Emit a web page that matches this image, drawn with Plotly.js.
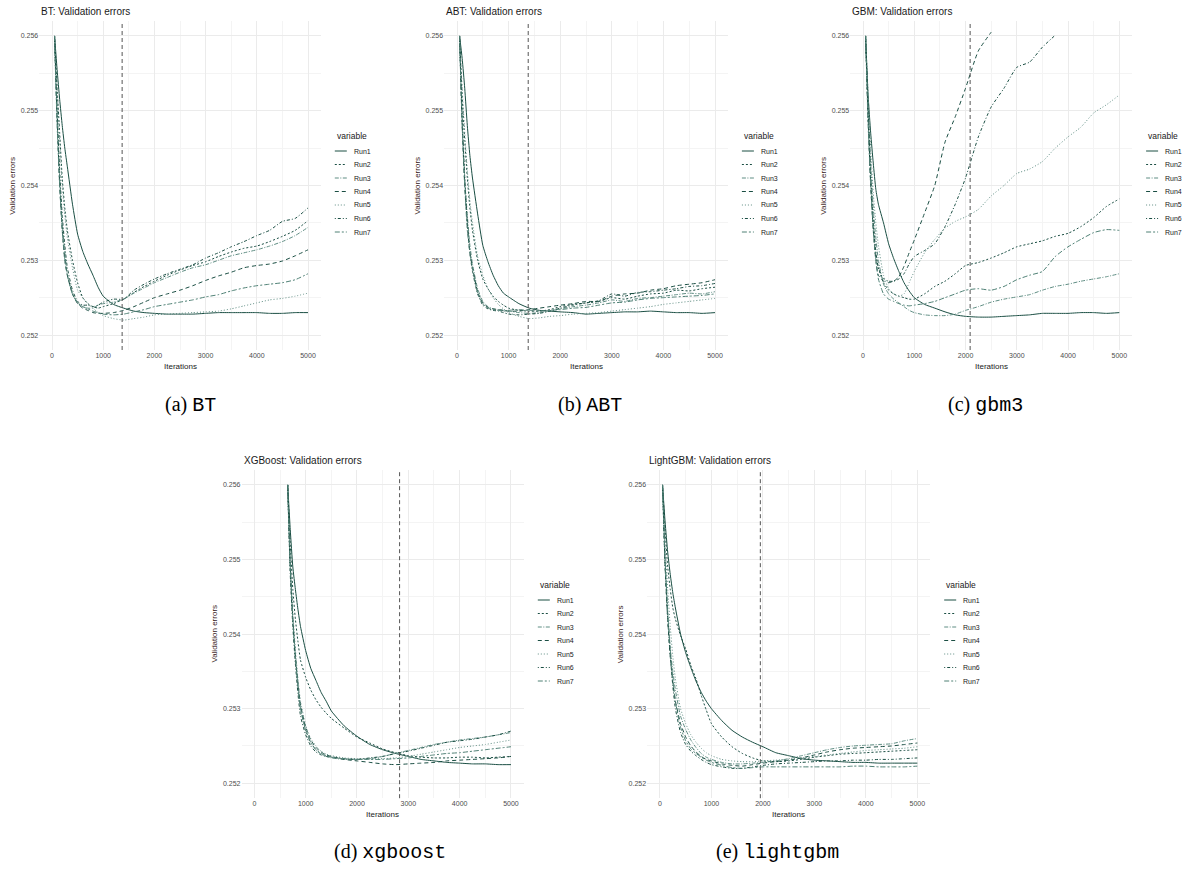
<!DOCTYPE html>
<html><head><meta charset="utf-8">
<script src="https://cdn.plot.ly/plotly-3.0.1.min.js"></script>
<style>html,body{margin:0;padding:0;background:#fff;} #chart{width:1183px;height:874px;}</style>
</head><body><div id="chart"></div>
<script>
// ---------------- DATA ----------------
const runNames = ['Run1','Run2','Run3','Run4','Run5','Run6','Run7'];
const panelTitles = ['BT: Validation errors','ABT: Validation errors','GBM: Validation errors','XGBoost: Validation errors','LightGBM: Validation errors'];
const captionLetters = ['(a)','(b)','(c)','(d)','(e)'];
const captionNames = ['BT','ABT','gbm3','xgboost','lightgbm'];
const bestIter = [1370, 1380, 2090, 2830, 1950];
const xTickVals = [0,1000,2000,3000,4000,5000];
const yTickVals = [0.252,0.253,0.254,0.255,0.256];

const iters = [50,100,150,200,250,300,400,500,600,700,800,900,1000,1200,1400,1600,1800,2000,2250,2500,2750,3000,3250,3500,3750,4000,4250,4500,4750,5000];
const itersXGB = [650,700,750,800,850,900,1000,1100,1200,1300,1400,1500,1750,2000,2250,2500,2750,3000,3250,3500,3750,4000,4250,4500,4750,5000];

const btRuns = [
 [0.2560,0.25555,0.25515,0.2548,0.2545,0.25425,0.25375,0.25335,0.25312,0.25295,0.2528,0.25264,0.25252,0.25241,0.25236,0.25232,0.2523,0.25229,0.25228,0.25228,0.25228,0.25229,0.2523,0.2523,0.2523,0.2523,0.25229,0.25229,0.2523,0.2523],
 [0.2560,0.2553,0.2547,0.2541,0.2537,0.2534,0.2530,0.2527,0.2525,0.25242,0.25238,0.25236,0.25238,0.25242,0.25248,0.25257,0.25265,0.25272,0.2528,0.25287,0.25293,0.25298,0.25305,0.25311,0.25316,0.25319,0.25325,0.25332,0.2534,0.25353],
 [0.2559,0.2549,0.2541,0.2535,0.2531,0.2528,0.25255,0.25243,0.25238,0.25236,0.25236,0.2524,0.25242,0.25244,0.25248,0.25256,0.25263,0.2527,0.25277,0.25284,0.2529,0.25294,0.253,0.25306,0.2531,0.25314,0.25319,0.25325,0.25333,0.25344],
 [0.2560,0.2549,0.2540,0.2534,0.2530,0.2528,0.25255,0.25242,0.25236,0.25233,0.2523,0.25229,0.25229,0.2523,0.25233,0.25238,0.25244,0.2525,0.25255,0.2526,0.25266,0.25273,0.25279,0.25284,0.2529,0.25293,0.25295,0.25299,0.25306,0.25314],
 [0.2560,0.2553,0.2546,0.2540,0.2536,0.2533,0.2529,0.2526,0.2525,0.25242,0.25236,0.2523,0.25226,0.25222,0.2522,0.25222,0.25224,0.25227,0.25228,0.25229,0.2523,0.25231,0.25232,0.25235,0.25239,0.25243,0.25247,0.25249,0.25252,0.25256],
 [0.2560,0.2550,0.2542,0.2536,0.2532,0.2529,0.2526,0.25245,0.2524,0.2524,0.25238,0.2524,0.25244,0.25248,0.25248,0.2526,0.25268,0.25275,0.25282,0.25288,0.25294,0.25303,0.2531,0.25318,0.25325,0.25333,0.2534,0.25352,0.25356,0.2537],
 [0.2560,0.2548,0.2540,0.2534,0.2530,0.2528,0.25255,0.25243,0.25238,0.25235,0.25232,0.2523,0.25228,0.25227,0.25228,0.25231,0.25234,0.25238,0.25241,0.25244,0.25247,0.25251,0.25254,0.25259,0.25263,0.25266,0.25268,0.2527,0.25274,0.25282]
];

const abtRuns = [
 [0.2560,0.2557,0.2553,0.2548,0.2544,0.2541,0.25362,0.2532,0.25298,0.2528,0.25266,0.25256,0.25251,0.25242,0.25236,0.25233,0.25232,0.25231,0.2523,0.25228,0.25229,0.2523,0.25231,0.25231,0.25232,0.25231,0.2523,0.2523,0.25229,0.2523],
 [0.2560,0.2552,0.2546,0.2541,0.2537,0.2534,0.2530,0.25275,0.25262,0.25252,0.25245,0.2524,0.25236,0.25233,0.25232,0.25232,0.25234,0.25238,0.25241,0.25243,0.25245,0.2525,0.25248,0.25252,0.25255,0.25256,0.2526,0.25259,0.25262,0.25264],
 [0.2559,0.2549,0.2541,0.2536,0.2532,0.25295,0.25262,0.25245,0.25238,0.25235,0.25234,0.25233,0.25232,0.2523,0.25229,0.2523,0.25232,0.25235,0.25238,0.2524,0.25243,0.25247,0.25245,0.25249,0.2525,0.25252,0.25254,0.25256,0.25255,0.25258],
 [0.2560,0.2548,0.2540,0.2535,0.2531,0.2529,0.25258,0.25243,0.25237,0.25235,0.25234,0.25233,0.25232,0.25232,0.25234,0.25236,0.25238,0.2524,0.25242,0.25245,0.25245,0.25252,0.25255,0.25256,0.2526,0.25262,0.25266,0.25268,0.2527,0.25274],
 [0.2560,0.2553,0.2547,0.2542,0.2538,0.2535,0.25305,0.2528,0.25262,0.2525,0.25241,0.25235,0.2523,0.25225,0.25222,0.25223,0.25225,0.25226,0.25228,0.25229,0.2523,0.25232,0.25234,0.25236,0.25238,0.25241,0.25243,0.25245,0.25247,0.25249],
 [0.2560,0.2549,0.2541,0.2535,0.2531,0.25285,0.25255,0.2524,0.25235,0.25233,0.25232,0.2523,0.25228,0.25227,0.25228,0.25229,0.25232,0.25236,0.2524,0.25243,0.25246,0.25255,0.25252,0.25257,0.25258,0.2526,0.25262,0.25265,0.25266,0.25269],
 [0.2560,0.2548,0.2540,0.2534,0.2531,0.2529,0.25256,0.25242,0.25236,0.25234,0.25233,0.25232,0.25233,0.25234,0.25233,0.25232,0.25233,0.25234,0.25236,0.25237,0.2524,0.25243,0.25244,0.25247,0.25249,0.2525,0.25251,0.25252,0.25253,0.25255]
];

const gbmRuns = [
 [0.2560,0.2552,0.2547,0.2543,0.25395,0.25375,0.2535,0.25322,0.25302,0.25285,0.2527,0.25259,0.2525,0.25241,0.25236,0.25231,0.25227,0.25225,0.25224,0.25224,0.25225,0.25226,0.25227,0.25229,0.25229,0.25229,0.2523,0.2523,0.25229,0.2523],
 [0.2560,0.2549,0.2541,0.2535,0.2531,0.2529,0.2527,0.2526,0.25255,0.25252,0.2525,0.25248,0.25248,0.25255,0.25265,0.25272,0.25282,0.25293,0.25297,0.25303,0.2531,0.25318,0.25322,0.25326,0.25332,0.25336,0.25345,0.25357,0.25372,0.25382],
 [0.2560,0.2551,0.2543,0.2537,0.2533,0.2530,0.25268,0.25255,0.25248,0.25243,0.25238,0.25233,0.2523,0.25227,0.25226,0.25226,0.25228,0.25233,0.25238,0.25244,0.25248,0.25251,0.25254,0.2526,0.25265,0.25268,0.25272,0.25275,0.25278,0.25282],
 [0.2560,0.2549,0.2540,0.2534,0.2530,0.2528,0.25272,0.2527,0.25272,0.25278,0.25292,0.2531,0.25327,0.25363,0.254,0.25458,0.25492,0.2553,0.2558,0.25605,null,null,null,null,null,null,null,null,null,null],
 [0.2560,0.2552,0.2545,0.2539,0.2535,0.2532,0.2528,0.25262,0.25255,0.25252,0.25255,0.2527,0.25285,0.2531,0.25328,0.25343,0.25352,0.25358,0.25368,0.25386,0.254,0.25416,0.25422,0.25432,0.2545,0.25465,0.25478,0.25497,0.25508,0.25521],
 [0.2560,0.2550,0.2541,0.2535,0.2531,0.2529,0.25275,0.25272,0.25272,0.25275,0.25282,0.25295,0.25305,0.25313,0.25322,0.25345,0.25375,0.2541,0.25465,0.25505,0.2553,0.25558,0.25565,0.25585,0.25601,null,null,null,null,null],
 [0.2560,0.2548,0.2540,0.2534,0.2530,0.25275,0.25255,0.25248,0.25245,0.25242,0.2524,0.25239,0.2524,0.25242,0.25245,0.2525,0.25255,0.2526,0.25262,0.2526,0.25265,0.25274,0.2528,0.25285,0.25305,0.25318,0.25328,0.25337,0.25341,0.2534]
];

const xgbRuns = [
 [0.2560,0.2554,0.2549,0.2546,0.25433,0.2541,0.25378,0.25354,0.25338,0.25322,0.2531,0.25297,0.25277,0.25263,0.25252,0.25245,0.2524,0.25236,0.25232,0.2523,0.25228,0.25227,0.25226,0.25226,0.25225,0.25225],
 [0.2560,0.2552,0.2546,0.2542,0.2539,0.25365,0.25342,0.25325,0.25312,0.25302,0.25294,0.25287,0.25274,0.25262,0.25254,0.25246,0.25241,0.25237,0.25235,0.25234,0.25234,0.25235,0.25235,0.25234,0.25235,0.25236],
 [0.2559,0.2549,0.2542,0.2537,0.2533,0.2530,0.25272,0.25255,0.25245,0.25239,0.25236,0.25234,0.25232,0.25232,0.25233,0.25236,0.2524,0.25244,0.25248,0.25252,0.25255,0.25258,0.2526,0.25262,0.25265,0.25268],
 [0.2560,0.2549,0.2542,0.2537,0.25335,0.25305,0.25275,0.25258,0.25248,0.25242,0.25238,0.25236,0.25232,0.2523,0.25228,0.25226,0.25225,0.25226,0.25227,0.25228,0.2523,0.25231,0.25232,0.25233,0.25234,0.25236],
 [0.2560,0.2550,0.2543,0.2538,0.2534,0.2531,0.25278,0.2526,0.2525,0.25243,0.25239,0.25237,0.25234,0.25233,0.25233,0.25233,0.25234,0.25236,0.25239,0.25242,0.25245,0.25248,0.2525,0.25252,0.25255,0.25258],
 [0.2560,0.2548,0.2541,0.2536,0.2532,0.2529,0.25265,0.2525,0.25242,0.25238,0.25236,0.25235,0.25233,0.25232,0.25234,0.25236,0.2524,0.25243,0.25247,0.25251,0.25255,0.25257,0.25259,0.25262,0.25265,0.2527],
 [0.2560,0.2549,0.2542,0.2537,0.2533,0.2530,0.2527,0.25254,0.25245,0.2524,0.25237,0.25235,0.25233,0.25232,0.25232,0.25232,0.25233,0.25234,0.25236,0.25238,0.2524,0.25241,0.25243,0.25245,0.25247,0.25249]
];

const lgbRuns = [
 [0.2560,0.2555,0.2551,0.2548,0.25455,0.25435,0.2540,0.25375,0.25355,0.25337,0.25322,0.2531,0.253,0.25284,0.25271,0.25262,0.25255,0.25249,0.25241,0.25237,0.25233,0.25231,0.2523,0.25229,0.25228,0.25228,0.25227,0.25227,0.25227,0.25227],
 [0.2560,0.2554,0.2549,0.2546,0.25435,0.2542,0.25398,0.2538,0.25358,0.2534,0.25318,0.25298,0.2528,0.25262,0.25249,0.2524,0.25234,0.2523,0.25229,0.2523,0.25232,0.25235,0.25237,0.25239,0.2524,0.25241,0.25242,0.25243,0.25244,0.25245],
 [0.2560,0.2550,0.2543,0.2538,0.2535,0.25325,0.2529,0.25272,0.25258,0.25248,0.2524,0.25235,0.25232,0.25228,0.25226,0.25226,0.25227,0.25228,0.2523,0.25233,0.25237,0.25241,0.25245,0.25248,0.2525,0.25251,0.25252,0.25253,0.25257,0.2526],
 [0.2560,0.2549,0.2542,0.2537,0.25335,0.2531,0.2528,0.25262,0.2525,0.25242,0.25236,0.25232,0.2523,0.25226,0.25224,0.25223,0.25225,0.25227,0.25229,0.25231,0.25234,0.25238,0.25242,0.25245,0.25247,0.25248,0.25249,0.2525,0.25252,0.25254],
 [0.2560,0.2552,0.2546,0.2541,0.2537,0.2534,0.2530,0.2528,0.25265,0.25255,0.25247,0.25241,0.25237,0.25232,0.2523,0.25229,0.25229,0.2523,0.25231,0.25232,0.25234,0.25236,0.25238,0.2524,0.25242,0.25244,0.25245,0.25246,0.25247,0.25249],
 [0.2560,0.2549,0.2542,0.2537,0.2533,0.2530,0.25268,0.25252,0.25243,0.25237,0.25232,0.25228,0.25225,0.25222,0.2522,0.2522,0.25222,0.25224,0.25226,0.25227,0.25228,0.25229,0.2523,0.2523,0.25231,0.25231,0.25232,0.25232,0.25233,0.25234],
 [0.2560,0.2550,0.2543,0.2538,0.2534,0.2531,0.25275,0.25257,0.25246,0.2524,0.25235,0.25231,0.25228,0.25224,0.25221,0.2522,0.25221,0.25222,0.25222,0.25222,0.25222,0.25222,0.25222,0.25222,0.25223,0.25223,0.25222,0.25222,0.25222,0.25223]
];

// ---------------- STYLE / LAYOUT ----------------
const panelRuns = [btRuns, abtRuns, gbmRuns, xgbRuns, lgbRuns];
const panelIters = [iters, iters, iters, itersXGB, iters];
const runColor = ['#1a4e43','#1a4e43','#5f8d83','#1a4e43','#5f8d83','#1a4e43','#4f8075'];
const runDash = ['solid','2px,2px','4px,1.5px,1px,1.5px','4px,3px','1px,2px','1px,2px,3px,2px','5px,2px,2px,2px'];
const W = 1183, H = 874;
const geom = [
  {l:39.2, r:320.8, t:21, b:350},
  {l:444.1, r:727.9, t:21, b:350},
  {l:850.2, r:1132.1, t:21, b:350},
  {l:241.5, r:523.8, t:470, b:798.2},
  {l:647.1, r:930.2, t:470, b:798.2}
];
const captionPos = [{x:190,y:405},{x:590,y:405},{x:985,y:405},{x:390,y:852},{x:777,y:852}];
const px = v => v / W;
const py = v => 1 - v / H;
const FONT = 'Liberation Sans, Arial, sans-serif';

const traces = [];
const layout = {
  width: W, height: H, margin: {l:0, r:0, t:0, b:0},
  paper_bgcolor: '#ffffff', plot_bgcolor: 'rgba(0,0,0,0)',
  showlegend: false, font: {family: FONT, color: '#4d4d4d'},
  annotations: [], shapes: []
};

panelRuns.forEach((runs, k) => {
  const sfx = k === 0 ? '' : String(k + 1);
  const g = geom[k];
  layout['xaxis' + sfx] = {
    domain: [px(g.l), px(g.r)], anchor: 'y' + sfx, range: [-250, 5250],
    tickmode: 'array', tickvals: xTickVals, ticktext: xTickVals.map(String),
    showgrid: true, gridcolor: '#ebebeb', gridwidth: 1,
    minor: {dtick: 500, tick0: 0, showgrid: true, gridcolor: '#f4f4f4', gridwidth: 1, ticks: ''},
    zeroline: false, showline: false, ticks: '',
    tickfont: {size: 7, color: '#4d4d4d', family: FONT}, fixedrange: true
  };
  layout['yaxis' + sfx] = {
    domain: [py(g.b), py(g.t)], anchor: 'x' + sfx, range: [0.2518, 0.2562],
    tickmode: 'array', tickvals: yTickVals, ticktext: yTickVals.map(v => v.toFixed(3)),
    showgrid: true, gridcolor: '#ebebeb', gridwidth: 1,
    minor: {dtick: 0.0005, tick0: 0.252, showgrid: true, gridcolor: '#f4f4f4', gridwidth: 1, ticks: ''},
    zeroline: false, showline: false, ticks: '',
    tickfont: {size: 7, color: '#4d4d4d', family: FONT}, fixedrange: true
  };
  runs.forEach((ys, i) => {
    traces.push({
      type: 'scatter', mode: 'lines', name: runNames[i],
      x: panelIters[k], y: ys, xaxis: 'x' + sfx, yaxis: 'y' + sfx,
      line: {color: runColor[i], width: 1, dash: runDash[i], shape: 'spline', smoothing: 0.5},
      connectgaps: false, hoverinfo: 'skip'
    });
  });
  // best-iteration vertical line
  layout.shapes.push({
    type: 'line', xref: 'x' + sfx, yref: 'y' + sfx + ' domain',
    x0: bestIter[k], x1: bestIter[k], y0: 0, y1: 1,
    line: {color: '#555555', width: 1, dash: '4px,3px'}
  });
  // panel title
  layout.annotations.push({
    xref: 'paper', yref: 'paper', x: px(g.l), y: py(g.t - 10), xanchor: 'left', yanchor: 'middle',
    text: panelTitles[k], showarrow: false, font: {size: 10, color: '#1a1a1a', family: FONT}
  });
  // axis titles
  layout.annotations.push({
    xref: 'paper', yref: 'paper', x: px((g.l + g.r) / 2), y: py(g.b + 16), xanchor: 'center', yanchor: 'middle',
    text: 'Iterations', showarrow: false, font: {size: 8, color: '#1a1a1a', family: FONT}
  });
  layout.annotations.push({
    xref: 'paper', yref: 'paper', x: px(g.l - 27), y: py((g.t + g.b) / 2), xanchor: 'center', yanchor: 'middle',
    text: 'Validation errors', textangle: -90, showarrow: false, font: {size: 8, color: '#3a2424', family: FONT}
  });
  // legend
  const lx = g.r + 14, ly = g.t + 115;
  layout.annotations.push({
    xref: 'paper', yref: 'paper', x: px(lx), y: py(ly), xanchor: 'left', yanchor: 'middle',
    text: 'variable', showarrow: false, font: {size: 8.5, color: '#1a1a1a', family: FONT}
  });
  runNames.forEach((nm, i) => {
    const yy = ly + 15 + 13.5 * i;
    layout.shapes.push({
      type: 'line', xref: 'paper', yref: 'paper', x0: px(lx), x1: px(lx + 12), y0: py(yy), y1: py(yy),
      line: {color: runColor[i], width: 1, dash: runDash[i]}
    });
    layout.annotations.push({
      xref: 'paper', yref: 'paper', x: px(lx + 17), y: py(yy), xanchor: 'left', yanchor: 'middle',
      text: nm, showarrow: false, font: {size: 7, color: '#1a1a1a', family: FONT}
    });
  });
  // caption
  const c = captionPos[k];
  layout.annotations.push({
    xref: 'paper', yref: 'paper', x: px(c.x), y: py(c.y), xanchor: 'center', yanchor: 'middle',
    text: captionLetters[k] + ' <span style="font-family:\'Liberation Mono\', monospace">' + captionNames[k] + '</span>',
    showarrow: false, font: {size: 20, color: '#000000', family: 'Liberation Serif, serif'}
  });
});

Plotly.newPlot('chart', traces, layout, {staticPlot: true, displayModeBar: false});
</script>
</body></html>
